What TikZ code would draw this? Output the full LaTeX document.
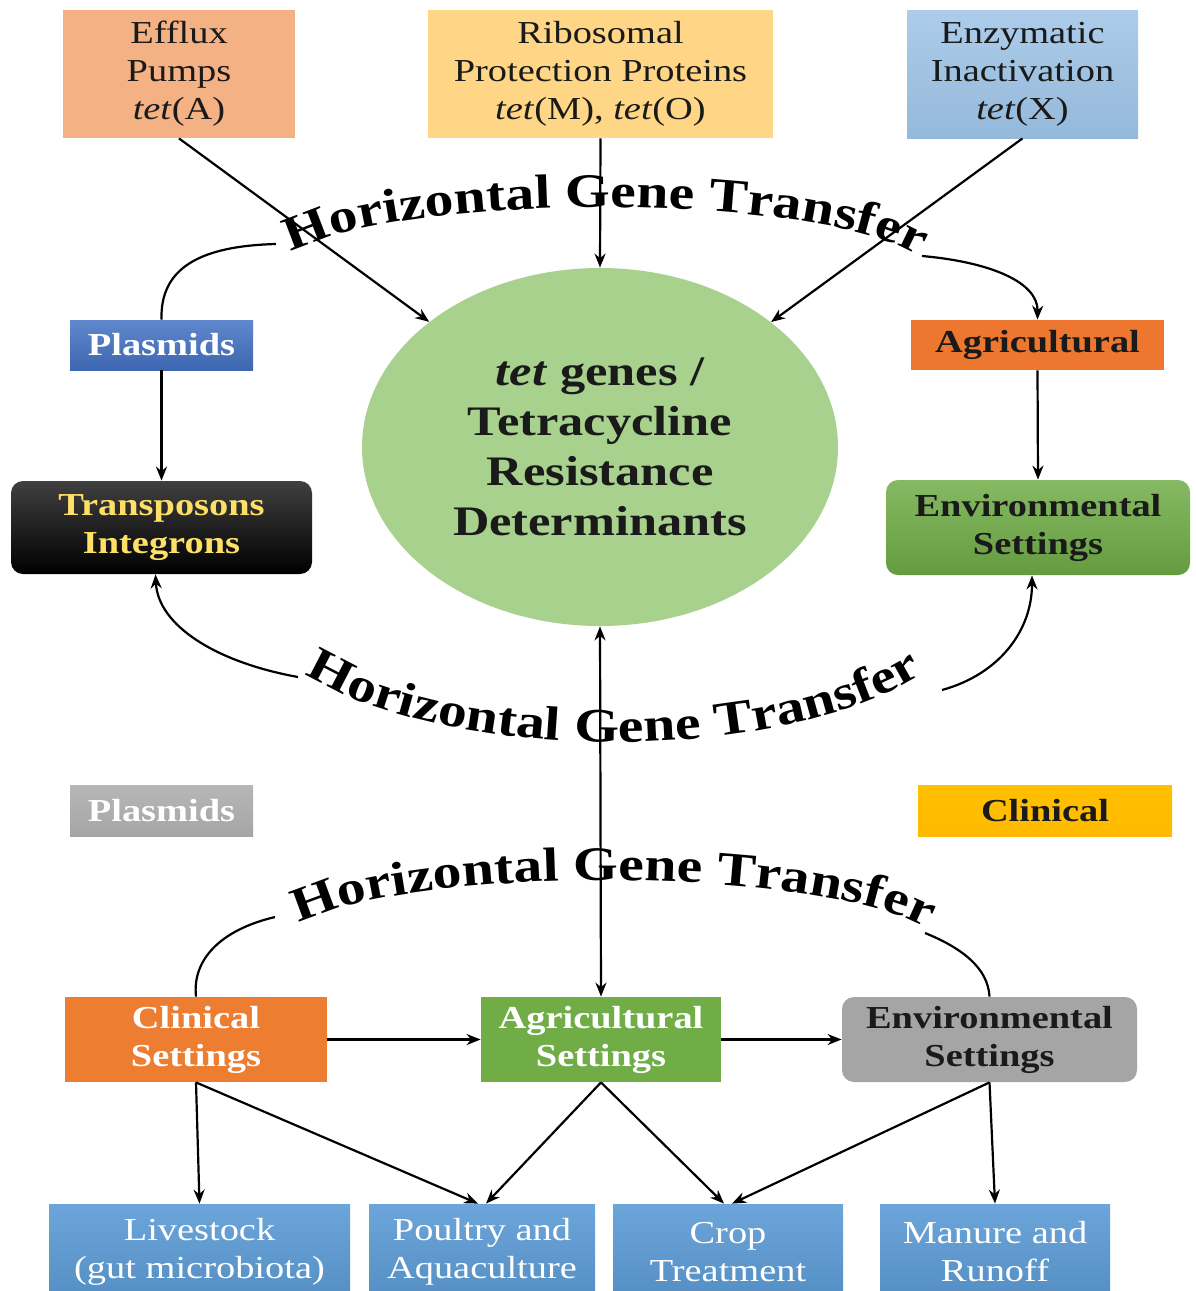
\documentclass[tikz,border=0pt]{standalone}
\usepackage{fontspec}
\setmainfont{Liberation Serif}[FakeStretch=1.2]
\usetikzlibrary{shapes.geometric,arrows.meta,decorations.text}
\definecolor{cEfflux}{HTML}{F4B183}
\definecolor{cRibo}{HTML}{FFD685}
\definecolor{cEnzy}{HTML}{9DC3E6}
\definecolor{cEll}{HTML}{A9D18E}
\definecolor{cBlue}{HTML}{4472C4}
\definecolor{cOrange}{HTML}{ED7D31}
\definecolor{cGreen}{HTML}{70AD47}
\definecolor{cGrey}{HTML}{A5A5A5}
\definecolor{cGold}{HTML}{FFC000}
\definecolor{cSky}{HTML}{5B9BD5}
\definecolor{cYellowText}{HTML}{FFE066}
\definecolor{cInk}{HTML}{1A1A1A}
\newcommand{\hgtfont}{\fontsize{24}{28}\selectfont\bfseries}
\begin{document}
\begin{tikzpicture}[x=0.5pt,y=-0.5pt,
  box/.style={rectangle, inner sep=0pt, align=center, text=cInk, font=\fontsize{16}{19}\selectfont},
  bbox/.style={rectangle, inner sep=0pt, align=center, font=\fontsize{16}{19}\selectfont\bfseries},
  sky/.style={rectangle, inner sep=0pt, align=center, text=white, top color=cSky!90!white, bottom color=cSky!92!black, font=\fontsize{16}{19}\selectfont},
  arr/.style={-{Stealth[length=7pt,width=5.5pt]}, line width=1.1pt},
  con/.style={line width=1.1pt},
  hgt/.style={decorate, decoration={text along path, text={|\hgtfont|Horizontal Gene Transfer}, text align=center}}
]
\useasboundingbox (0,0) rectangle (1195,1291);
\fill[white] (0,0) rectangle (1195,1291);

% top boxes
\node[box, fill=cEfflux, minimum width=116pt, minimum height=64pt] (efflux) at (179,74) {Efflux\\Pumps\\\textit{tet}(A)};
\node[box, fill=cRibo, minimum width=172.5pt, minimum height=64pt] (ribo) at (600.5,74) {Ribosomal\\Protection Proteins\\\textit{tet}(M), \textit{tet}(O)};
\node[box, top color=cEnzy!85!white, bottom color=cEnzy!95!black, minimum width=115.5pt, minimum height=64pt] (enzy) at (1022.5,74) {Enzymatic\\Inactivation\\\textit{tet}(X)};

% central ellipse
\node[ellipse, fill=cEll, inner sep=0pt, minimum width=238pt, minimum height=179pt, align=center, text=cInk,
  font=\fontsize{21}{25}\selectfont\bfseries] (tet) at (600,447) {\textit{tet} genes /\\Tetracycline\\Resistance\\Determinants};

% left column
\node[bbox, text=white, top color=cBlue!85!white, bottom color=cBlue!90!black, minimum width=91.5pt, minimum height=25pt] (plasA) at (161.5,345) {Plasmids};
\node[bbox, text=cYellowText, top color=black!75, bottom color=black, rounded corners=6pt, minimum width=150.5pt, minimum height=46.5pt] (transp) at (161.5,527.5) {Transposons\\Integrons};
\node[bbox, text=white, top color=cGrey!80!white, bottom color=cGrey, minimum width=91.5pt, minimum height=25.5pt] (plasB) at (161.5,810.5) {Plasmids};

% right column
\node[bbox, text=cInk, fill=cOrange!95!red, minimum width=126.5pt, minimum height=25pt] (agri) at (1037.5,345) {Agricultural};
\node[bbox, text=cInk, top color=cGreen!85!white, bottom color=cGreen!90!black, rounded corners=6pt, minimum width=152pt, minimum height=47.5pt] (envA) at (1038,527.5) {Environmental\\Settings};
\node[bbox, text=cInk, top color=cGold, bottom color=cGold!90!orange, minimum width=127pt, minimum height=25.5pt] (clin) at (1045,810.5) {Clinical};

% settings row
\node[bbox, text=white, fill=cOrange, minimum width=131pt, minimum height=42.5pt] (clinS) at (196,1039.5) {Clinical\\Settings};
\node[bbox, text=white, fill=cGreen, minimum width=120pt, minimum height=42.5pt] (agriS) at (601,1039.5) {Agricultural\\Settings};
\node[bbox, text=cInk, fill=cGrey, rounded corners=6pt, minimum width=147.5pt, minimum height=42.5pt] (envS) at (989.5,1039.5) {Environmental\\Settings};

% bottom row
\node[sky, minimum width=150.5pt, minimum height=48pt] (live) at (199.5,1252) {Livestock\\(gut microbiota)};
\node[sky, minimum width=113pt, minimum height=48pt] (poul) at (482,1252) {Poultry and\\Aquaculture};
\node[sky, minimum width=115pt, minimum height=48pt] (crop) at (728,1252) {Crop\\Treatment};
\node[sky, minimum width=115pt, minimum height=48pt] (manu) at (995,1252) {Manure and\\Runoff};

% arc texts
\path[hgt] (282,258) .. controls (380,190) and (840,190) .. (928,262);
\path[hgt] (296,668) .. controls (439,767) and (789,767) .. (932,668);
\path[hgt] (288,930) .. controls (386,863) and (839,863) .. (938,935);

\coordinate (h1L) at (276,244);
\coordinate (h1R) at (922,256);
\coordinate (h2L) at (298,677);
\coordinate (h2R) at (942,690);
\coordinate (h3L) at (275,917);
\coordinate (h3R) at (925,933);

% connectors
\draw[arr] (efflux.south) -- (tet);
\draw[arr] (ribo.south) -- (tet.north);
\draw[arr] (enzy.south) -- (tet);
\draw[con] (plasA.north) .. controls (160,268) and (200,246) .. (h1L);
\draw[arr] (h1R) .. controls (990,262) and (1038,282) .. (agri.north);
\draw[arr] (plasA.south) -- (transp.north);
\draw[arr] (agri.south) -- (envA.north);
\draw[arr] (h2L) .. controls (215,662) and (158,625) .. ([xshift=-3pt]transp.south);
\draw[arr] (h2R) .. controls (1000,674) and (1032,630) .. ([xshift=-3pt]envA.south);
\draw[{Stealth[length=7pt,width=5.5pt]}-{Stealth[length=7pt,width=5.5pt]}, line width=1.1pt] (tet.south) -- (agriS.north);
\draw[con] (h3L) .. controls (220,930) and (192,960) .. (clinS.north);
\draw[con] (h3R) .. controls (962,948) and (988,968) .. (envS.north);
\draw[arr] (clinS.east) -- (agriS.west);
\draw[arr] (agriS.east) -- (envS.west);
\draw[arr] (clinS.south) -- (live.north);
\draw[arr] (clinS.south) -- ([xshift=-2pt]poul.north);
\draw[arr] (agriS.south) -- ([xshift=2pt]poul.north);
\draw[arr] (agriS.south) -- ([xshift=-2pt]crop.north);
\draw[arr] (envS.south) -- ([xshift=2pt]crop.north);
\draw[arr] (envS.south) -- (manu.north);
\end{tikzpicture}
\end{document}
